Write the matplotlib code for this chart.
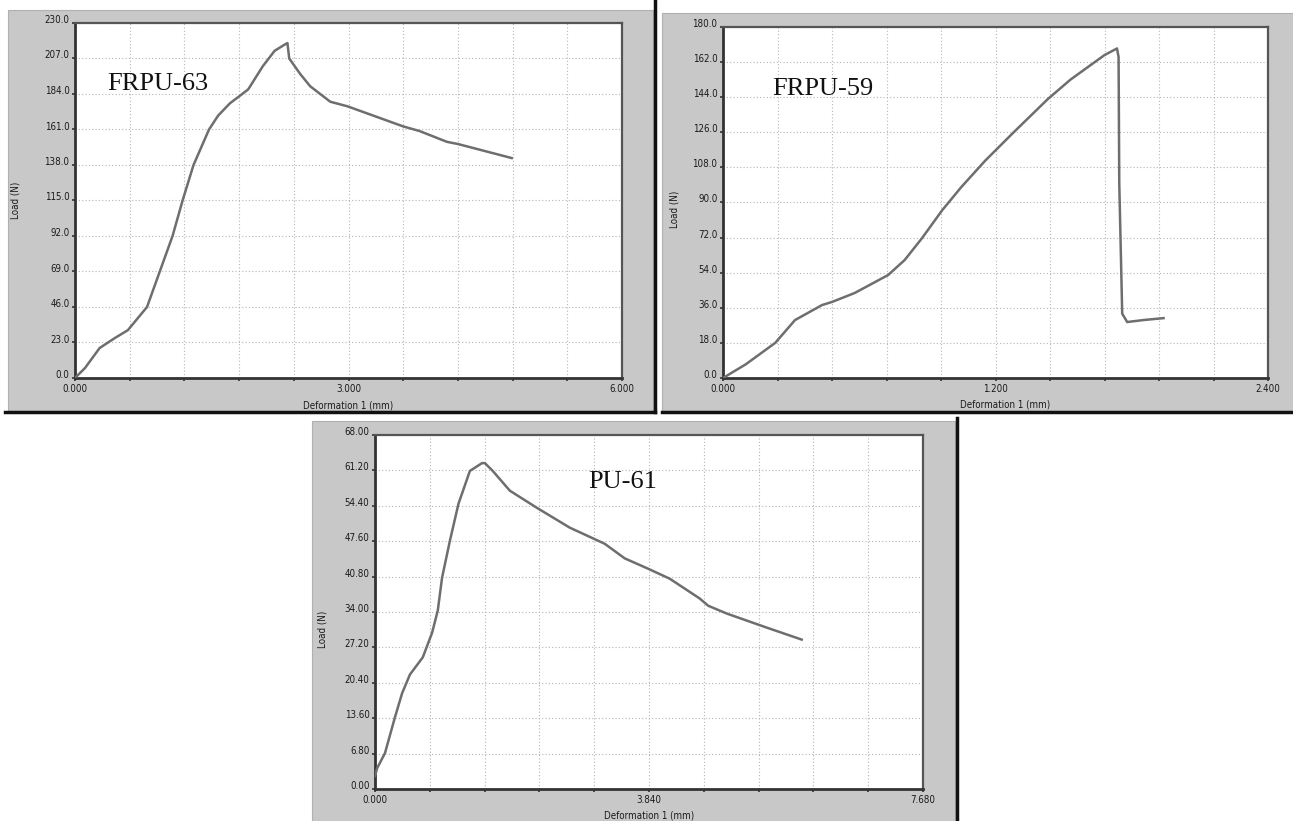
import matplotlib
matplotlib.use('Agg')
import matplotlib.pyplot as plt
from matplotlib.patches import Rectangle
from matplotlib.lines import Line2D

W, H = 1293, 821

# FRPU-63 : deformation (mm) vs load (N)
x1 = [0.0, 0.11, 0.27, 0.44, 0.58, 0.79, 0.93, 1.07, 1.18, 1.30, 1.47, 1.57, 1.70, 1.79,
      1.90, 2.06, 2.19, 2.30, 2.33, 2.35, 2.47, 2.58, 2.80, 2.99, 3.60, 3.78, 4.08, 4.20, 4.79]
y1 = [0.0, 6.5, 19.4, 26.0, 31.0, 46.0, 69.0, 92.0, 115.0, 138.0, 161.0, 170.0, 178.0, 182.0,
      187.0, 202.0, 212.0, 216.0, 217.0, 207.0, 197.0, 189.0, 179.0, 176.0, 163.0, 160.0, 153.0, 151.6, 142.5]

# FRPU-59
x2 = [0.0, 0.10, 0.23, 0.317, 0.436, 0.48, 0.58, 0.727, 0.80, 0.877, 0.965, 1.05, 1.155,
      1.28, 1.43, 1.53, 1.68, 1.735, 1.742, 1.745, 1.758, 1.78, 1.85, 1.94]
y2 = [0.0, 7.0, 18.0, 29.7, 37.4, 39.0, 43.6, 52.8, 60.5, 71.8, 86.0, 98.0, 111.5,
      126.0, 143.0, 153.0, 165.6, 169.0, 164.6, 100.0, 33.0, 28.7, 29.7, 30.7]

# PU-61
x3 = [0.0, 0.03, 0.14, 0.28, 0.38, 0.49, 0.67, 0.80, 0.88, 0.94, 1.05, 1.17, 1.33, 1.50,
      1.54, 1.65, 1.89, 2.27, 2.73, 3.22, 3.50, 3.83, 4.13, 4.55, 4.67, 4.93, 5.49, 5.98]
y3 = [2.5, 4.0, 6.9, 13.8, 18.4, 22.0, 25.3, 30.0, 34.3, 40.6, 47.7, 54.8, 61.1, 62.6,
      62.6, 61.1, 57.3, 54.0, 50.2, 47.1, 44.3, 42.3, 40.4, 36.6, 35.2, 33.7, 31.0, 28.7]

xlab1 = ['0.000', '3.000', '6.000']
ylab1 = ['0.0', '23.0', '46.0', '69.0', '92.0', '115.0', '138.0', '161.0', '184.0', '207.0', '230.0']
xlab2 = ['0.000', '1.200', '2.400']
ylab2 = ['0.0', '18.0', '36.0', '54.0', '72.0', '90.0', '108.0', '126.0', '144.0', '162.0', '180.0']
xlab3 = ['0.000', '3.840', '7.680']
ylab3 = ['0.00', '6.80', '13.60', '20.40', '27.20', '34.00', '40.80', '47.60', '54.40', '61.20', '68.00']

narrow = ['Liberation Sans Narrow', 'DejaVu Sans']
serif = ['Liberation Serif', 'DejaVu Serif']
small = dict(fontfamily=narrow, fontstretch='condensed', fontsize=7, color='#1a1a1a')

fig = plt.figure(figsize=(W / 100, H / 100), dpi=100)
fig.patch.set_facecolor('white')


def fx(px):
    return px / W


def fy(py):
    return 1 - py / H


def gray_box(x0, y0, x1_, y1_):
    fig.add_artist(Rectangle((fx(x0), fy(y1_)), fx(x1_) - fx(x0), fy(y0) - fy(y1_),
                             transform=fig.transFigure, facecolor='#c8c8c8',
                             edgecolor='#b0b0b0', lw=0.8, zorder=0))


def black_line(xa, ya, xb, yb, lw=2.5):
    fig.add_artist(Line2D([fx(xa), fx(xb)], [fy(ya), fy(yb)], transform=fig.transFigure,
                          color='#111111', lw=lw, zorder=1))


def panel(box, xs, ys, xmax, ymax, xlabs, ylabs, name, name_pos, ylab_x, ylab_y, xlab_pos):
    left, top, right, bottom = box
    ax = fig.add_axes([fx(left), fy(bottom), fx(right) - fx(left), fy(top) - fy(bottom)])
    ax.set_facecolor('white')
    ax.plot(xs, ys, color='#6e6e6e', lw=1.8, zorder=3)
    ax.set_xlim(0, xmax)
    ax.set_ylim(0, ymax)
    ax.set_xticks([xmax * i / 10 for i in range(11)])
    ax.set_yticks([ymax * i / 10 for i in range(11)])
    xl = [''] * 11
    xl[0], xl[5], xl[10] = xlabs
    ax.set_xticklabels(xl, **small)
    ax.set_yticklabels(ylabs, **small)
    for t in ax.get_yticklabels():
        t.set_verticalalignment('baseline')
    ax.tick_params(length=2, width=1.2, color='#333333', pad=2)
    ax.grid(True, color='#b5b5b5', linestyle=(0, (1, 2)), lw=0.8)
    for s in ['left', 'bottom']:
        ax.spines[s].set_color('#333333')
        ax.spines[s].set_linewidth(2)
    for s in ['top', 'right']:
        ax.spines[s].set_color('#555555')
        ax.spines[s].set_linewidth(1.6)
    ax.set_ylabel('Load (N)', **small)
    ax.yaxis.set_label_coords(ylab_x, ylab_y)
    ax.set_xlabel('Deformation 1 (mm)', **small)
    ax.xaxis.set_label_coords(*xlab_pos)
    ax.text(name_pos[0], name_pos[1], name, transform=ax.transAxes, fontfamily=serif,
            fontsize=19, ha='left', va='baseline', color='#111111')
    return ax


# backgrounds and frame lines
gray_box(8, 10, 653, 411)
gray_box(662, 13, 1293, 411)
gray_box(312, 421, 955, 821)
black_line(5, 412, 655, 412)
black_line(655, 0, 655, 412)
black_line(662, 412, 1293, 412)
black_line(957, 418, 957, 821)

panel((75, 23, 622, 378), x1, y1, 6.0, 230.0, xlab1, ylab1, 'FRPU-63',
      (0.058, 0.81), -0.10, 0.50, (0.5, -0.062))
panel((723, 27, 1268, 378), x2, y2, 2.4, 180.0, xlab2, ylab2, 'FRPU-59',
      (0.09, 0.806), -0.079, 0.48, (0.517, -0.06))
panel((375, 435, 923, 789), x3, y3, 7.68, 68.0, xlab3, ylab3, 'PU-61',
      (0.389, 0.85), -0.086, 0.45, (0.5, -0.06))

fig.savefig('out.png', dpi=100, facecolor='white')
